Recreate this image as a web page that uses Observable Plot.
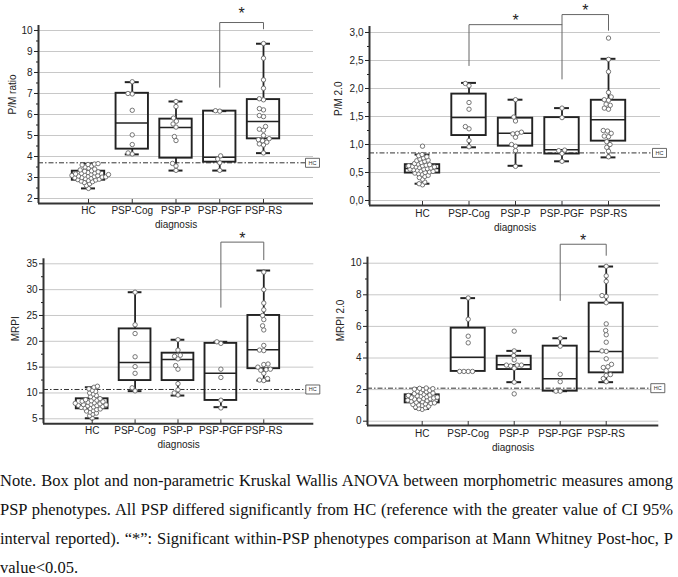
<!DOCTYPE html>
<html><head><meta charset="utf-8">
<script src="https://cdn.jsdelivr.net/npm/d3@7"></script>
<script src="https://cdn.jsdelivr.net/npm/@observablehq/plot@0.6"></script>
<style>
body{margin:0;background:#fff;}
#fig{position:relative;width:678px;height:577px;overflow:hidden;background:#fff;}
.cell{position:absolute;}
.cell svg{overflow:visible;display:block;}
#note{position:absolute;left:0;top:466px;width:673px;font-family:"Liberation Serif","Times New Roman",serif;font-size:16.5px;line-height:29px;text-align:justify;color:#111;}
</style></head><body>
<div id="fig">
<div class="cell" id="p1" style="left:0;top:0"></div>
<div class="cell" id="p2" style="left:330px;top:0"></div>
<div class="cell" id="p3" style="left:0;top:232px"></div>
<div class="cell" id="p4" style="left:330px;top:232px"></div>
<div id="note">Note. Box plot and non-parametric Kruskal Wallis ANOVA between morphometric measures among PSP phenotypes. All PSP differed significantly from HC (reference with the greater value of CI 95% interval reported). “*”: Significant within-PSP phenotypes comparison at Mann Whitney Post-hoc, P value&lt;0.05.</div>
</div>
<script>
const groups = ["HC", "PSP-Cog", "PSP-P", "PSP-PGF", "PSP-RS"];

// ---- P/M ratio ----
const pmDots = [
  [2.48, 2.62, 2.7, 2.76, 2.8, 2.83, 2.86, 2.88, 2.9, 2.92, 2.95, 2.97, 2.99, 3.0, 3.02, 3.03, 3.05, 3.06, 3.07, 3.09, 3.1, 3.12, 3.14, 3.15, 3.17, 3.2, 3.22, 3.24, 3.27, 3.3, 3.32, 3.36, 3.4, 3.45, 3.5, 3.55, 3.6, 3.62, 3.64, 3.66],
  [7.56, 7.0, 6.98, 6.2, 5.03, 4.57, 4.17, 4.12],
  [6.62, 6.38, 5.83, 5.68, 5.55, 5.4, 4.95, 4.76, 3.67, 3.55, 3.34],
  [6.18, 6.16, 4.03, 3.88, 3.7, 3.34],
  [9.38, 8.68, 7.65, 7.25, 6.75, 6.7, 6.28, 6.22, 5.95, 5.9, 5.43, 5.3, 5.25, 5.0, 4.85, 4.8, 4.75, 4.68, 4.6, 4.55, 4.17]
];
const pmLo  = [2.48, 4.10, 3.33, 3.33, 4.16];
const pmQ1  = [2.87, 4.35, 3.92, 3.73, 4.84];
const pmMed = [3.06, 5.59, 5.38, 3.97, 5.67];
const pmQ3  = [3.30, 7.01, 5.78, 6.16, 6.71];
const pmHi  = [3.66, 7.54, 6.62, 6.16, 9.37];
const pmTicks = [2, 3, 4, 5, 6, 7, 8, 9, 10];
const pmMinor = [2.5, 3.5, 4.5, 5.5, 6.5, 7.5, 8.5, 9.5];
const pmHC = 3.7;
const pmBrackets = [{from: 3, to: 4, yFrom: 7.3, yTop: 10.38, yTo: 10.08, star: 11.0}];

// ---- P/M 2.0 ----
const pm2Dots = [
  [0.28, 0.3, 0.33, 0.38, 0.41, 0.43, 0.45, 0.47, 0.48, 0.49, 0.5, 0.51, 0.52, 0.53, 0.54, 0.55, 0.56, 0.56, 0.57, 0.58, 0.59, 0.6, 0.6, 0.61, 0.62, 0.62, 0.63, 0.64, 0.65, 0.66, 0.68, 0.7, 0.71, 0.72, 0.74, 0.76, 0.78, 0.8, 0.82, 0.97],
  [2.09, 2.05, 1.75, 1.63, 1.32, 1.28, 1.07, 0.96],
  [1.8, 1.49, 1.42, 1.22, 1.2, 1.19, 1.13, 1.0, 0.97, 0.89, 0.61],
  [1.65, 1.48, 0.9, 0.89, 0.84, 0.7],
  [2.9, 2.52, 2.3, 1.93, 1.85, 1.8, 1.79, 1.72, 1.7, 1.65, 1.63, 1.25, 1.24, 1.2, 1.15, 1.14, 1.05, 1.0, 0.95, 0.88, 0.78]
];
const pm2Lo  = [0.30, 0.95, 0.62, 0.70, 0.77];
const pm2Q1  = [0.49, 1.16, 0.97, 0.83, 1.06];
const pm2Med = [0.57, 1.48, 1.20, 0.905, 1.44];
const pm2Q3  = [0.64, 1.90, 1.47, 1.48, 1.79];
const pm2Hi  = [0.82, 2.10, 1.80, 1.65, 2.53];
const pm2Ticks = [0, 0.5, 1, 1.5, 2, 2.5, 3];
const pm2Minor = [0.25, 0.75, 1.25, 1.75, 2.25, 2.75];
const pm2HC = 0.85;
const pm2Brackets = [
  {from: 1, to: 3, yFrom: 2.41, yTop: 3.14, yTo: 2.17, star: 3.27},
  {from: 3, to: 4, yFrom: 3.14, yTop: 3.32, yTo: 3.04, star: 3.46}
];

// ---- MRPI ----
const mrpiDots = [
  [5.1, 5.6, 5.9, 6.1, 6.3, 6.5, 6.6, 6.8, 6.9, 7.0, 7.1, 7.2, 7.3, 7.4, 7.5, 7.55, 7.6, 7.7, 7.75, 7.8, 7.9, 8.0, 8.1, 8.2, 8.3, 8.4, 8.5, 8.6, 8.7, 8.9, 9.0, 9.3, 9.5, 9.8, 10.0, 10.3, 10.5, 10.8, 11.1, 11.3],
  [29.5, 23.2, 21.5, 17.0, 15.1, 13.8, 11.0, 10.4],
  [20.3, 18.3, 17.3, 17.1, 16.6, 15.3, 14.6, 11.8, 10.6, 10.0, 9.6],
  [19.9, 19.6, 14.6, 13.0, 8.6, 7.1],
  [33.4, 30.0, 27.4, 26.1, 25.0, 24.2, 23.0, 22.2, 19.2, 18.3, 18.2, 15.6, 15.5, 15.0, 14.6, 14.5, 14.4, 13.8, 12.8, 12.5, 12.4]
];
const mrpiLo  = [5.1, 10.35, 9.5, 7.25, 12.4];
const mrpiQ1  = [6.93, 12.4, 12.4, 8.55, 14.7];
const mrpiMed = [7.7, 15.9, 16.5, 13.8, 18.35];
const mrpiQ3  = [8.87, 22.4, 17.7, 19.6, 25.0];
const mrpiHi  = [11.1, 29.5, 20.3, 19.9, 33.7];
const mrpiTicks = [5, 10, 15, 20, 25, 30, 35];
const mrpiMinor = [7.5, 12.5, 17.5, 22.5, 27.5, 32.5];
const mrpiHC = 10.67;
const mrpiBrackets = [{from: 3, to: 4, yFrom: 26.6, yTop: 39.2, yTo: 35.8, star: 40.6}];

// ---- MRPI 2.0 ----
const mrpi2Dots = [
  [0.75, 0.8, 0.85, 0.9, 0.95, 1.0, 1.03, 1.06, 1.1, 1.13, 1.16, 1.2, 1.23, 1.26, 1.3, 1.33, 1.36, 1.4, 1.42, 1.44, 1.47, 1.5, 1.52, 1.55, 1.58, 1.6, 1.63, 1.66, 1.7, 1.74, 1.78, 1.82, 1.86, 1.9, 1.95, 2.0, 2.03, 2.06, 2.08, 2.1],
  [7.8, 6.45, 5.38, 4.96, 3.15, 3.15, 3.15, 3.15],
  [5.7, 4.45, 4.15, 3.88, 3.55, 3.55, 3.55, 3.5, 3.35, 2.47, 1.73],
  [5.25, 4.75, 2.97, 2.5, 1.9, 1.9],
  [9.8, 9.2, 8.85, 7.95, 7.9, 7.5, 6.16, 5.74, 5.47, 5.0, 4.45, 4.42, 3.95, 3.6, 3.45, 3.4, 3.2, 2.95, 2.9, 2.7, 2.5]
];
const mrpi2Lo  = [0.78, 3.15, 2.47, 1.9, 2.47];
const mrpi2Q1  = [1.16, 3.15, 3.27, 1.9, 3.06];
const mrpi2Med = [1.42, 4.05, 3.57, 2.68, 4.41];
const mrpi2Q3  = [1.67, 5.89, 4.11, 4.75, 7.47];
const mrpi2Hi  = [2.08, 7.79, 4.45, 5.25, 9.79];
const mrpi2Ticks = [0, 2, 4, 6, 8, 10];
const mrpi2Minor = [1, 3, 5, 7, 9];
const mrpi2HC = 2.09;
const mrpi2Brackets = [{from: 3, to: 4, yFrom: 7.64, yTop: 11.2, yTo: 10.5, star: 11.65}];

// ---------- drawing ----------
const INK = "#222";
const hcBox = {draw(ctx) { ctx.rect(-7, -4.5, 14, 9); }};

function swarm(values, idx, ppx, ppy, d) {
  const sorted = values.slice().sort((a, b) => a - b);
  const placed = [];
  for (const v of sorted) {
    const y = v * ppy;
    const cands = [0];
    for (const q of placed) {
      const dy = Math.abs(q.y - y);
      if (dy < d) {
        const dx = Math.sqrt(d * d - dy * dy);
        cands.push(q.x + dx, q.x - dx);
      }
    }
    cands.sort((a, b) => Math.abs(a) - Math.abs(b) || a - b);
    const x = cands.find(c => placed.every(q => (q.x - c) ** 2 + (q.y - y) ** 2 >= d * d - 1e-6));
    placed.push({x, y, v});
  }
  return placed.map(p => ({x: idx + p.x / ppx, v: p.v}));
}

function panel(cfg) {
  const {id, width, height, ml, mr, mt, mb, xDomain, yDomain, dots, lo, q1, med, q3, hi,
         ticks, minor, fmt, hc, brackets, yLabel, labelDx, tickPad, diagDy} = cfg;
  const ppx = (width - ml - mr) / (xDomain[1] - xDomain[0]);
  const ppy = (height - mt - mb) / (yDomain[1] - yDomain[0]);
  const idx = groups.map((g, i) => i);
  const box = idx.map(i => ({i, lo: lo[i], q1: q1[i], med: med[i], q3: q3[i], hi: hi[i]}));
  const pts = idx.flatMap(i => swarm(dots[i], i, ppx, ppy, i === 0 ? 3.6 : 4.3));
  const bw = 0.37, cw = 0.16;
  const bracketPts = brackets.flatMap((b, k) => [
    {k, x: b.from, y: b.yFrom}, {k, x: b.from, y: b.yTop},
    {k, x: b.to, y: b.yTop}, {k, x: b.to, y: b.yTo}
  ]);
  const plot = Plot.plot({
    width, height, marginLeft: ml, marginRight: mr, marginTop: mt, marginBottom: mb,
    style: {fontFamily: "'Liberation Sans', Arial, sans-serif", fontSize: "10px", color: INK, background: "transparent", overflow: "visible"},
    x: {domain: xDomain, label: null},
    y: {domain: yDomain, label: null},
    marks: [
      Plot.ruleY(ticks, {stroke: "#c8c8c8", strokeWidth: 1}),
      Plot.ruleY([hc], {stroke: "#333", strokeWidth: 1, strokeDasharray: "5,2,1.5,2"}),
      Plot.ruleX(box, {x: "i", y1: "q3", y2: "hi", stroke: INK, strokeWidth: 1.8}),
      Plot.ruleX(box, {x: "i", y1: "lo", y2: "q1", stroke: INK, strokeWidth: 1.8}),
      Plot.ruleY(box, {x1: d => d.i - cw, x2: d => d.i + cw, y: "hi", stroke: INK, strokeWidth: 2}),
      Plot.ruleY(box, {x1: d => d.i - cw, x2: d => d.i + cw, y: "lo", stroke: INK, strokeWidth: 2}),
      Plot.rect(box, {x1: d => d.i - bw, x2: d => d.i + bw, y1: "q1", y2: "q3", fill: "none", stroke: INK, strokeWidth: 1.9}),
      Plot.ruleY(box, {x1: d => d.i - bw, x2: d => d.i + bw, y: "med", stroke: INK, strokeWidth: 1.5}),
      Plot.dot(pts, {x: "x", y: "v", r: 2.2, fill: "white", stroke: "#666", strokeWidth: 0.9}),
      Plot.line(bracketPts, {x: "x", y: "y", z: "k", stroke: "#666", strokeWidth: 1, curve: "linear"}),
      Plot.text(brackets, {x: d => (d.from + d.to) / 2, y: "star", text: () => "*", fontSize: 16, dy: 4, fill: INK}),
      Plot.dot([hc], {x: () => xDomain[1], y: d => d, symbol: hcBox, dx: -1, fill: "white", stroke: "#444", strokeWidth: 0.8}),
      Plot.text([hc], {x: () => xDomain[1], y: d => d, text: () => "HC", dx: -1, fontSize: 5.5, fill: "#333"}),
      Plot.ruleX([xDomain[0]], {stroke: "#333", strokeWidth: 2}),
      Plot.ruleY([yDomain[0]], {stroke: "#333", strokeWidth: 2}),
      Plot.ruleX(idx, {x: d => d, y1: yDomain[0], y2: yDomain[0] + 4 / ppy, stroke: "#333", strokeWidth: 1}),
      Plot.axisY(ticks, {anchor: "left", tickSize: 4, tickPadding: 2, tickFormat: fmt, fontSize: 10, label: null}),
      Plot.axisY(minor, {anchor: "left", tickSize: 2, tickFormat: () => "", label: null}),
      Plot.axisX(idx, {anchor: "bottom", tickSize: 0, tickPadding: tickPad, tickFormat: i => groups[i], fontSize: 10, label: null}),
      Plot.text(["diagnosis"], {frameAnchor: "bottom", dy: diagDy, fontSize: 10, fill: INK}),
      Plot.text([yLabel], {frameAnchor: "left", rotate: -90, dx: labelDx, fontSize: 10, fill: INK})
    ]
  });
  document.getElementById(id).appendChild(plot);
}

const f1 = d => String(d);
const fComma = d => d.toFixed(1).replace(".", ",");

panel({id: "p1", width: 330, height: 232, ml: 38, mr: 17, mt: 25, mb: 29,
  xDomain: [-1.143, 5.143], yDomain: [1.762, 10.238],
  dots: pmDots, lo: pmLo, q1: pmQ1, med: pmMed, q3: pmQ3, hi: pmHi,
  ticks: pmTicks, minor: pmMinor, fmt: f1, hc: pmHC, brackets: pmBrackets,
  yLabel: "P/M ratio", labelDx: -26, tickPad: 3, diagDy: 24});

panel({id: "p2", width: 348, height: 232, ml: 39, mr: 18, mt: 26, mb: 27,
  xDomain: [-1.14, 5.118], yDomain: [-0.089, 3.107],
  dots: pm2Dots, lo: pm2Lo, q1: pm2Q1, med: pm2Med, q3: pm2Q3, hi: pm2Hi,
  ticks: pm2Ticks, minor: pm2Minor, fmt: fComma, hc: pm2HC, brackets: pm2Brackets,
  yLabel: "P/M 2.0", labelDx: -31, tickPad: 4, diagDy: 25});

panel({id: "p3", width: 330, height: 223, ml: 43, mr: 16.7, mt: 26.3, mb: 31.7,
  xDomain: [-1.135, 5.166], yDomain: [4.03, 35.97],
  dots: mrpiDots, lo: mrpiLo, q1: mrpiQ1, med: mrpiMed, q3: mrpiQ3, hi: mrpiHi,
  ticks: mrpiTicks, minor: mrpiMinor, fmt: f1, hc: mrpiHC, brackets: mrpiBrackets,
  yLabel: "MRPI", labelDx: -28, tickPad: 3, diagDy: 24});

panel({id: "p4", width: 348, height: 223, ml: 37, mr: 19.7, mt: 24.7, mb: 30,
  xDomain: [-1.189, 5.143], yDomain: [-0.272, 10.38],
  dots: mrpi2Dots, lo: mrpi2Lo, q1: mrpi2Q1, med: mrpi2Med, q3: mrpi2Q3, hi: mrpi2Hi,
  ticks: mrpi2Ticks, minor: mrpi2Minor, fmt: f1, hc: mrpi2HC, brackets: mrpi2Brackets,
  yLabel: "MRPI 2.0", labelDx: -27, tickPad: 4, diagDy: 25});
</script>
</body></html>
